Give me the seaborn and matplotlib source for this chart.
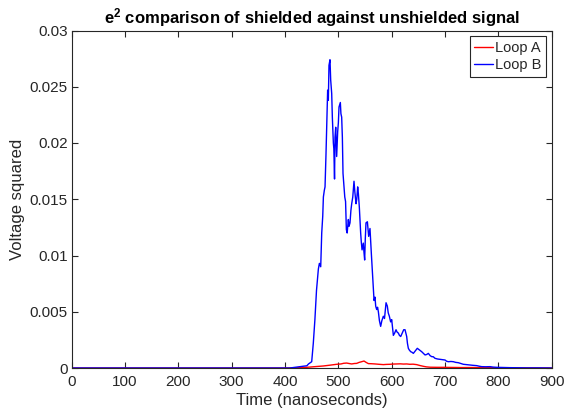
import matplotlib
matplotlib.use("Agg")
import matplotlib.pyplot as plt
import seaborn as sns
import pandas as pd

# ---- data ----
loop_a_time = [0, 405, 420, 440.6, 456, 471.9, 484, 496.9, 505, 510, 515.6, 520, 525, 530,
               534.3, 539, 543.7, 548.1, 552, 556.2, 562, 568.7, 576, 584.4, 590, 596.9,
               603, 609.4, 616, 622, 628.1, 634, 640, 646.8, 653, 659.4, 665, 672, 685, 697,
               712, 730, 750, 775, 800, 830, 860, 900]
loop_a_value = [0, 0, 0.00002, 0.00006, 0.00012, 0.00018, 0.00025, 0.00033, 0.00036, 0.00042,
                0.00044, 0.0004, 0.00036, 0.0004, 0.00041, 0.0005, 0.00056, 0.00062, 0.0005,
                0.00039, 0.00038, 0.00036, 0.00033, 0.0003, 0.00032, 0.00033, 0.00035, 0.00036,
                0.00037, 0.00035, 0.00036, 0.00033, 0.00034, 0.0003, 0.00022, 0.00015, 0.0001,
                0.00007, 0.00006, 0.00006, 0.00005, 0.00004, 0.00004, 0.00003, 0.00002,
                0.00001, 0.00001, 0]

loop_b_time = [0, 409, 428, 441, 444, 450, 453, 456, 459, 462.5, 464.4, 466.9, 468.8, 470.7,
               471.9, 473.7, 475, 476.8, 478.1, 479.9, 481.2, 482.4, 484.3, 485.6, 487.5,
               488.7, 490.6, 491.5, 492.8, 493.7, 495, 495.6, 496.8, 498.7, 500, 501.2, 503.7,
               504.8, 506.2, 507.5, 508.7, 510.6, 512, 513.5, 515, 516.5, 518.7, 520, 521.8,
               523.5, 525, 527, 529.3, 531, 533.1, 534.5, 536.2, 537.5, 539.3, 541.8, 543,
               544.4, 546.8, 548, 549.3, 550.5, 551.8, 554.4, 556.8, 559.3, 561.8, 564.4,
               566.9, 568.7, 570, 571.8, 573.5, 575, 577, 579.3, 581.5, 584.3, 586.5, 589.4,
               591.8, 593.5, 595.6, 598, 600, 601.5, 603.1, 605.5, 608.1, 610, 612.5, 614.5,
               616.9, 618.8, 620.6, 622.5, 625, 626.5, 628.1, 629.5, 631.2, 633, 635.6, 638,
               640.6, 644, 648, 652, 656.2, 659.5, 662.5, 665.5, 668.7, 672, 675, 678, 681.2,
               686, 690.6, 695, 700, 703, 706.2, 711, 715.6, 720, 725, 730, 734.3, 740, 746.8,
               752, 759.4, 764, 768.7, 776, 784.4, 790, 796.9, 810, 821.9, 837, 853, 875, 900]
loop_b_value = [0, 0, 0.00012, 0.0002, 0.00036, 0.00056, 0.0022, 0.0043, 0.0069, 0.0088,
                0.0093, 0.0090, 0.0120, 0.0135, 0.0152, 0.0158, 0.0161, 0.0190, 0.0215, 0.0247,
                0.0238, 0.0269, 0.0274, 0.0256, 0.0244, 0.0223, 0.0200, 0.0195, 0.0168, 0.0205,
                0.0214, 0.0206, 0.0188, 0.0210, 0.0218, 0.0232, 0.0236, 0.0226, 0.0223, 0.0205,
                0.0173, 0.0161, 0.0152, 0.0148, 0.0123, 0.0120, 0.0132, 0.0126, 0.0129, 0.0140,
                0.0146, 0.0152, 0.0166, 0.0156, 0.0146, 0.0150, 0.0161, 0.0155, 0.0143, 0.0120,
                0.0112, 0.0105, 0.0111, 0.0103, 0.0096, 0.0115, 0.0129, 0.0130, 0.0117, 0.0124,
                0.0102, 0.0081, 0.0060, 0.0063, 0.0055, 0.0052, 0.0054, 0.0050, 0.0042, 0.0037,
                0.0042, 0.0046, 0.0044, 0.0058, 0.0055, 0.0049, 0.0046, 0.0041, 0.0043, 0.0036,
                0.0029, 0.0031, 0.0034, 0.0032, 0.0031, 0.0029, 0.0028, 0.0030, 0.0032, 0.0034,
                0.0034, 0.0031, 0.0028, 0.0022, 0.00175, 0.0016, 0.00145, 0.0014, 0.0013, 0.0015,
                0.00175, 0.0016, 0.00145, 0.0013, 0.00116, 0.0012, 0.0013, 0.0011, 0.00101,
                0.0010, 0.00086, 0.0008, 0.00077, 0.00074, 0.00071, 0.0006, 0.00056, 0.00058,
                0.00056, 0.0005, 0.00047, 0.0004, 0.00033, 0.0003, 0.00027, 0.00024, 0.00021,
                0.00016, 0.00012, 0.00011, 0.00012, 0.00008, 0.00006, 0.00004, 0.00003, 0.00002,
                0.00001, 0.00001, 0]

series_names = ["Loop A", "Loop B"]
x_ticks = [0, 100, 200, 300, 400, 500, 600, 700, 800, 900]
y_ticks = [0, 0.005, 0.01, 0.015, 0.02, 0.025, 0.03]
y_tick_labels = ["0", "0.005", "0.01", "0.015", "0.02", "0.025", "0.03"]

df = pd.concat([
    pd.DataFrame({"t": loop_a_time, "v": loop_a_value, "series": series_names[0]}),
    pd.DataFrame({"t": loop_b_time, "v": loop_b_value, "series": series_names[1]}),
], ignore_index=True)

# ---- style ----
sns.set_theme(style="white")
plt.rcParams["font.family"] = ["Liberation Sans", "DejaVu Sans"]
plt.rcParams["mathtext.fontset"] = "custom"
plt.rcParams["mathtext.rm"] = "Liberation Sans"
plt.rcParams["mathtext.bf"] = "Liberation Sans:bold"

fig = plt.figure(figsize=(5.65, 4.17), dpi=100)
ax = fig.add_axes([71.7 / 565, 1 - 368 / 417, 480 / 565, 337.5 / 417])

sns.lineplot(data=df, x="t", y="v", hue="series", palette={"Loop A": "#ff0000", "Loop B": "#0000ff"},
             estimator=None, sort=False, linewidth=1.0, ax=ax, legend=False)

ax.set_xlim(0, 900)
ax.set_ylim(0, 0.03)
ax.set_xticks(x_ticks)
ax.set_xticklabels([str(v) for v in x_ticks])
ax.set_yticks(y_ticks)
ax.set_yticklabels(y_tick_labels)

tick_col = "#262626"
ax.tick_params(axis="both", which="both", direction="in", length=4, width=0.8,
               top=True, right=True, bottom=True, left=True, colors=tick_col,
               labelsize=11, pad=3)
ax.tick_params(axis="x", pad=5)
for s in ax.spines.values():
    s.set_color(tick_col)
    s.set_linewidth(0.8)

ax.set_xlabel("Time (nanoseconds)", fontsize=12, color=tick_col, labelpad=3)
ax.set_ylabel("Voltage squared", fontsize=12, color=tick_col, labelpad=3)
ax.set_title(r"$\mathbf{e^2}$ comparison of shielded against unshielded signal",
             fontsize=12, fontweight="bold", color="black", pad=5)

lines = ax.get_lines()
leg = ax.legend(lines[:2], series_names, loc="upper right", fontsize=10.5, frameon=True,
                fancybox=False, edgecolor=tick_col, framealpha=1, handlelength=1.3,
                handletextpad=0.15, borderpad=0.3, labelspacing=0.25, borderaxespad=0.4)
leg.get_frame().set_linewidth(0.8)

fig.savefig("out.png", dpi=100)
